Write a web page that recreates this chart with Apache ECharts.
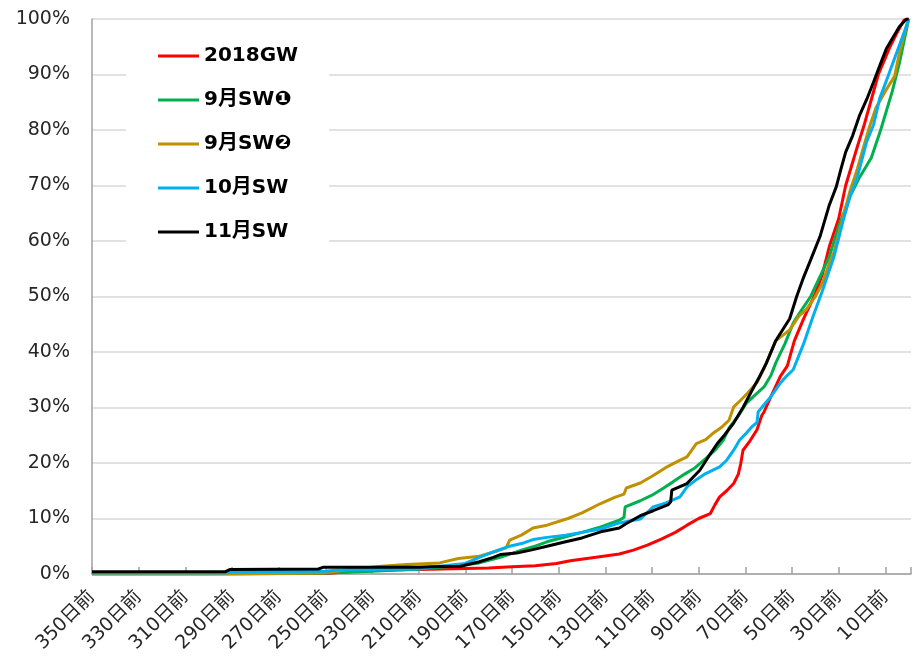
<!DOCTYPE html>
<html>
<head>
<meta charset="utf-8">
<script src="https://cdn.jsdelivr.net/npm/echarts@6/dist/echarts.min.js"></script>
<style>html,body{margin:0;padding:0;background:#fff}#c{width:920px;height:662px}</style>
</head>
<body>
<div id="c"></div>
<script>
// Days before (日前) and cumulative share (%)
const seriesNames = ['2018GW', '9月SW❶', '9月SW❷', '10月SW', '11月SW'];
const seriesColors = ['#ff0000', '#00b050', '#bf9000', '#00b0f0', '#000000'];

const gw2018 = [[350,0],[300,0],[250,0.1],[242,0.35],[224,0.7],[210,0.8],[190,1.0],[180,1.1],[170,1.3],[160,1.5],[151,1.9],[145,2.4],[134,3.0],[124,3.6],[118,4.3],[112,5.2],[106,6.3],[100,7.5],[95,8.8],[90,10.0],[85,10.9],[83,12.5],[81,13.9],[78,15.0],[75,16.3],[73,18.0],[72,19.8],[71,22.3],[68,24],[65,26.0],[63,28.5],[62,29.2],[59,32],[55,35.6],[52,37.5],[49,42],[45,46],[40,50.5],[37,54],[34,59],[30,64],[27,70],[25,72.8],[22,77],[19,81],[16,85.5],[13,90],[10,93],[8,95],[5,97.5],[2,99.8],[0,100]];

const sep1 = [[350,0],[290,0],[250,0.2],[230,0.5],[210,0.9],[195,1.4],[184,2.0],[175,3.0],[168,4.0],[161,4.9],[155,5.8],[147,6.7],[140,7.5],[132,8.5],[124,9.7],[122,10.2],[121.5,12.1],[115,13.2],[110,14.2],[105,15.5],[101,16.6],[96,18.0],[92,19.0],[87,20.8],[83,22.3],[79.5,24.1],[77,26.3],[73,28.5],[69.5,30.8],[66,32.2],[62,33.7],[59,35.8],[57,38],[53,41.5],[49.5,45.2],[46,47.5],[42,50],[37,54.5],[34,57.2],[30,62.6],[25,68.2],[21,71.5],[16,75],[12,80],[7,87],[4,92],[1,98],[0,100]];

const sep2 = [[350,0],[300,0],[250,0.2],[240,0.8],[226,1.4],[215,1.7],[201,2.0],[193,2.8],[184,3.2],[176,4.2],[172.5,4.7],[171,6.1],[166,7.0],[161,8.3],[155,8.8],[146,10.0],[140,11.0],[132,12.7],[126,13.8],[122,14.4],[121,15.5],[115,16.4],[110,17.6],[104,19.2],[99,20.3],[95,21.1],[91,23.5],[87,24.2],[84,25.3],[80,26.5],[77,27.7],[75,30.1],[72,31.3],[69,32.6],[65,34.5],[62,37.0],[57,42],[53,43.3],[51,44],[47,46.5],[44,47.6],[40,50],[37,52.4],[34,56],[32,58],[28,64.5],[25,69.2],[22,73],[19.5,76.7],[17,80.3],[14,84],[10,87],[6,89.7],[4,93.8],[2,97],[0,100]];

const oct = [[350,0.2],[292,0.2],[290,0.4],[250,0.5],[245,0.7],[210,0.9],[205,1.2],[190,1.9],[184,3.0],[178,4.0],[172,4.9],[165,5.6],[161,6.2],[155,6.6],[147,7.0],[140,7.5],[132,8.1],[124,9.2],[115,9.9],[109.5,12.1],[104,12.8],[98,13.9],[95,15.7],[91,17.0],[87,18.1],[81,19.3],[78,20.5],[75,22.3],[72.5,24.1],[70,25.2],[67,26.6],[65,27.3],[64.5,29.2],[62,30.5],[59.5,31.7],[55,34.4],[52,35.8],[49.5,36.8],[45,41.5],[41,46.4],[37,51],[32,57.2],[28,63.8],[25,68.2],[22,71.5],[18,77.9],[15,81],[12.4,85.7],[9,89.5],[5,94.1],[2,97.5],[0,100]];

const nov = [[350,0.4],[293,0.4],[291,0.8],[253,0.9],[251,1.2],[210,1.2],[205,1.3],[192,1.4],[184,2.2],[178,3.0],[175,3.5],[168,3.8],[162,4.3],[155,5.0],[147,5.8],[140,6.5],[132,7.6],[124,8.3],[121,9.1],[115,10.5],[109.5,11.4],[103,12.5],[102,13.0],[101.5,15.1],[95,16.3],[89.5,18.7],[86,21],[82,23.5],[79,25],[75,27.2],[71,30],[67,33.2],[64,35.5],[61,38],[57,42],[54,44],[51,46],[48,50],[45,53.5],[42,56.6],[38,60.8],[34,66.5],[31,69.8],[29,73],[27,76],[24,79],[21,82.7],[18,85.5],[15,88.7],[12,92],[9.5,94.7],[7,96.5],[4,98.6],[1,100],[0,100]];

const xTickDays = [350,330,310,290,270,250,230,210,190,170,150,130,110,90,70,50,30,10];
const yTicks = [0,10,20,30,40,50,60,70,80,90,100];

const allData = [gw2018, sep1, sep2, oct, nov];
const START = 350;
const FONT = "'DejaVu Sans', 'Noto Sans CJK JP', sans-serif";

const chart = echarts.init(document.getElementById('c'), null, {renderer: 'canvas'});
chart.setOption({
  animation: false,
  backgroundColor: '#fff',
  grid: {left: 92, right: 9, top: 19, bottom: 88, containLabel: false},
  legend: {
    orient: 'vertical',
    left: 126, top: 24,
    padding: [20, 31, 26, 32],
    backgroundColor: '#ffffff',
    itemGap: 20,
    icon: 'rect',
    itemWidth: 41, itemHeight: 3,
    textStyle: {fontFamily: FONT, fontSize: 20, fontWeight: 'bold', color: '#000', lineHeight: 24},
    data: seriesNames,
    z: 10
  },
  xAxis: {
    type: 'value', min: 0, max: 351, interval: 20,
    axisLine: {show: true, lineStyle: {color: '#a0a0a0', width: 1.5}},
    axisTick: {show: true, inside: true, length: 7, lineStyle: {color: '#a0a0a0', width: 1.5}},
    axisLabel: {
      rotate: 45, margin: 20, fontSize: 19, fontFamily: FONT, color: '#262626',
      hideOverlap: false,
      formatter: v => (xTickDays.indexOf(START - v) >= 0 ? (START - v) + '日前' : '')
    },
    splitLine: {show: false}
  },
  yAxis: {
    type: 'value', min: 0, max: 100, interval: 10,
    axisLine: {show: true, lineStyle: {color: '#a0a0a0', width: 1.5}},
    axisTick: {show: false},
    axisLabel: {margin: 22, fontSize: 19, fontFamily: FONT, color: '#262626', formatter: '{value}%'},
    splitLine: {show: true, lineStyle: {color: '#d9d9d9', width: 1.5}}
  },
  series: seriesNames.map((name, i) => ({
    name: name,
    type: 'line',
    symbol: 'none',
    color: seriesColors[i],
    lineStyle: {width: 3, color: seriesColors[i]},
    data: allData[i].map(p => [START - p[0], p[1]])
  }))
});
</script>
</body>
</html>
